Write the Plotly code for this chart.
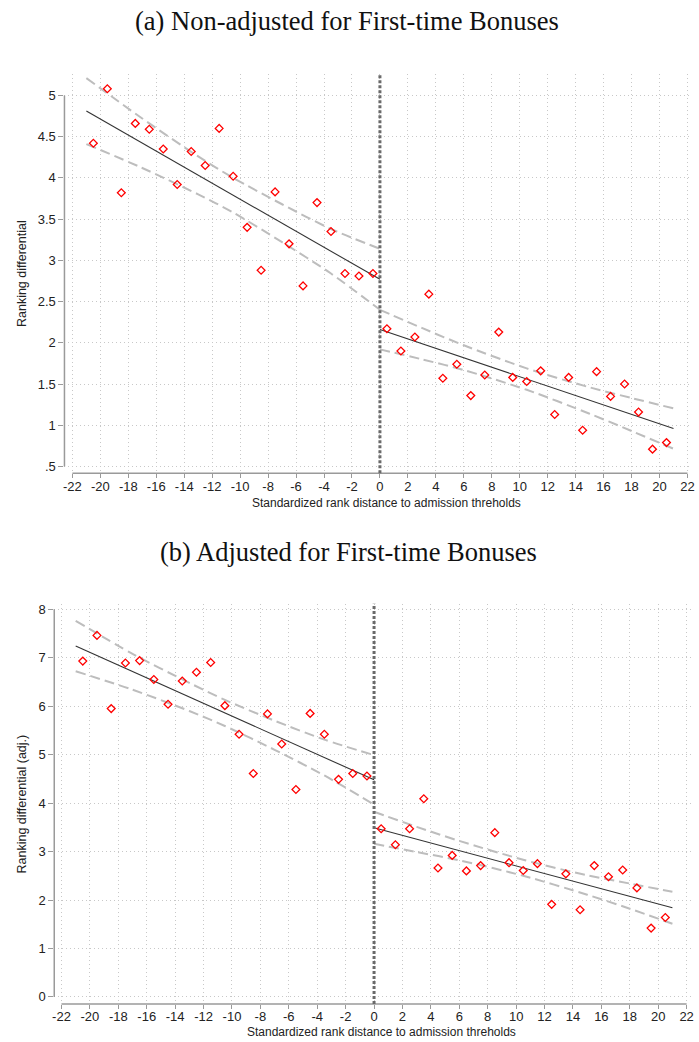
import plotly.graph_objects as go

# ---------------- data ----------------
bins_left = [-20.5, -19.5, -18.5, -17.5, -16.5, -15.5, -14.5, -13.5, -12.5, -11.5, -10.5,
             -9.5, -8.5, -7.5, -6.5, -5.5, -4.5, -3.5, -2.5, -1.5, -0.5]
bins_right = [0.5, 1.5, 2.5, 3.5, 4.5, 5.5, 6.5, 7.5, 8.5, 9.5, 10.5,
              11.5, 12.5, 13.5, 14.5, 15.5, 16.5, 17.5, 18.5, 19.5, 20.5]

# (a) Non-adjusted
a_left = [4.42, 5.08, 3.82, 4.66, 4.59, 4.35, 3.92, 4.32, 4.15, 4.60, 4.02,
          3.40, 2.88, 3.83, 3.20, 2.69, 3.70, 3.35, 2.84, 2.81, 2.84]
a_right = [2.17, 1.90, 2.07, 2.59, 1.57, 1.74, 1.36, 1.61, 2.13, 1.58, 1.53,
           1.66, 1.13, 1.58, 0.94, 1.65, 1.35, 1.50, 1.16, 0.71, 0.79]

# (b) Adjusted
b_left = [6.93, 7.46, 5.95, 6.89, 6.94, 6.55, 6.04, 6.52, 6.70, 6.90, 6.01,
          5.42, 4.61, 5.84, 5.22, 4.28, 5.85, 5.42, 4.49, 4.61, 4.56]
b_right = [3.47, 3.14, 3.47, 4.09, 2.66, 2.92, 2.60, 2.71, 3.39, 2.77, 2.61,
           2.75, 1.91, 2.54, 1.80, 2.71, 2.48, 2.62, 2.25, 1.42, 1.64]

# fitted lines
fit_x_left = [-21, 0]
fit_x_right = [0, 21]
a_fit_left = [4.81, 2.77]
a_fit_right = [2.16, 0.96]
b_fit_left = [7.24, 4.48]
b_fit_right = [3.49, 1.84]

# confidence bands (read at these x positions)
ci_x_left = [-21, -17, -13, -10.5, -7, -3.5, 0]
ci_x_right = [0, 3, 6, 10.5, 15, 18, 21]
a_up_left = [5.21, 4.72, 4.26, 4.00, 3.68, 3.38, 3.14]
a_lo_left = [4.41, 4.12, 3.80, 3.58, 3.22, 2.84, 2.40]
a_up_right = [2.40, 2.18, 1.97, 1.69, 1.46, 1.33, 1.205]
a_lo_right = [1.92, 1.80, 1.67, 1.43, 1.14, 0.93, 0.715]
b_up_left = [7.76, 7.08, 6.48, 6.13, 5.70, 5.31, 4.99]
b_lo_left = [6.72, 6.34, 5.90, 5.59, 5.10, 4.57, 3.97]
b_up_right = [3.82, 3.51, 3.22, 2.83, 2.51, 2.34, 2.17]
b_lo_right = [3.16, 2.99, 2.82, 2.50, 2.11, 1.82, 1.51]

x_ticks = list(range(-22, 23, 2))
x_ticklabels = [str(v) for v in x_ticks]
a_yticks = [0.5, 1, 1.5, 2, 2.5, 3, 3.5, 4, 4.5, 5]
a_yticklabels = [".5", "1", "1.5", "2", "2.5", "3", "3.5", "4", "4.5", "5"]
b_yticks = [0, 1, 2, 3, 4, 5, 6, 7, 8]
b_yticklabels = ["0", "1", "2", "3", "4", "5", "6", "7", "8"]

title_a = "(a) Non-adjusted for First-time Bonuses"
title_b = "(b) Adjusted for First-time Bonuses"
xtitle = "Standardized rank distance to admission threholds"
ytitle_a = "Ranking differential"
ytitle_b = "Ranking differential (adj.)"

# ---------------- styling ----------------
W, H = 699, 1042
RED = "#ff0000"
FIT = "#333333"
CI = "#bdbdbd"
AX = "#9a9a9a"
GRID = "#c8c8c8"
SANS = "Liberation Sans, Arial, sans-serif"
SERIF = "Liberation Serif, Times New Roman, serif"

fig = go.Figure()


def add_panel(xa, ya, pts_l, pts_r, fit_l, fit_r, upl, lol, upr, lor):
    for xs, ys in [(ci_x_left, upl), (ci_x_left, lol), (ci_x_right, upr), (ci_x_right, lor)]:
        fig.add_trace(go.Scatter(x=xs, y=ys, mode="lines", xaxis=xa, yaxis=ya,
                                 line=dict(color=CI, width=2, dash="10px,5px", shape="spline", smoothing=0.8),
                                 hoverinfo="skip", showlegend=False))
    for xs, ys in [(fit_x_left, fit_l), (fit_x_right, fit_r)]:
        fig.add_trace(go.Scatter(x=xs, y=ys, mode="lines", xaxis=xa, yaxis=ya,
                                 line=dict(color=FIT, width=1.1), showlegend=False))
    fig.add_trace(go.Scatter(x=bins_left + bins_right, y=pts_l + pts_r, mode="markers",
                             xaxis=xa, yaxis=ya, showlegend=False,
                             marker=dict(symbol="diamond-open", color=RED, size=6,
                                         line=dict(color=RED, width=1.3))))


add_panel("x", "y", a_left, a_right, a_fit_left, a_fit_right,
          a_up_left, a_lo_left, a_up_right, a_lo_right)
add_panel("x2", "y2", b_left, b_right, b_fit_left, b_fit_right,
          b_up_left, b_lo_left, b_up_right, b_lo_right)


def px_x(p):
    return p / W


def px_y(p):
    return 1 - p / H


axis_common = dict(showline=False, zeroline=False, ticks="outside",
                   tickwidth=1, tickcolor=AX, showgrid=True, gridcolor=GRID,
                   griddash="1px,3px", gridwidth=1,
                   tickfont=dict(family=SANS, size=13, color="#222222"))
yaxis_extra = dict(ticklen=5)

fig.update_layout(
    width=W, height=H, margin=dict(l=0, r=0, t=0, b=0),
    plot_bgcolor="white", paper_bgcolor="white",
    xaxis=dict(domain=[px_x(63), px_x(695)], range=[-22.567, 22.255], anchor="y",
               ticklen=4, ticklabelstandoff=-3, tickvals=x_ticks, ticktext=x_ticklabels,
               **axis_common),
    yaxis=dict(domain=[px_y(472.7), px_y(72)], range=[0.417, 5.262], anchor="x",
               tickvals=a_yticks, ticktext=a_yticklabels, **yaxis_extra, **axis_common),
    xaxis2=dict(domain=[px_x(52.7), px_x(695)], range=[-22.509, 22.31], anchor="y2",
                ticklen=4, ticklabelstandoff=-4, tickvals=x_ticks, ticktext=x_ticklabels,
                **axis_common),
    yaxis2=dict(domain=[px_y(1005), px_y(603.5)], range=[-0.148, 8.113], anchor="x2",
                tickvals=b_yticks, ticktext=b_yticklabels, **yaxis_extra, **axis_common),
)

shapes = []
for xa, ya, y0, y1 in [("x", "y", 0.5, 5), ("x2", "y2", 0, 8)]:
    shapes.append(dict(type="line", xref=f"{xa} domain", yref=ya, x0=0, x1=0, y0=y0, y1=y1,
                       line=dict(color=AX, width=1.5)))
    shapes.append(dict(type="line", xref=xa, yref=f"{ya} domain", x0=-22, x1=22, y0=0, y1=0,
                       line=dict(color=AX, width=1.5)))
    shapes.append(dict(type="line", xref=xa, yref=f"{ya} domain", x0=0, x1=0, y0=0, y1=1,
                       line=dict(color="#6a6a6a", width=3, dash="3px,2px")))
fig.update_layout(shapes=shapes)

ann = []
ann.append(dict(text=title_a, x=px_x(348), y=px_y(19), xref="paper", yref="paper", showarrow=False,
                xanchor="center", yanchor="middle", font=dict(family=SERIF, size=26.5, color="#111")))
ann.append(dict(text=title_b, x=px_x(349), y=px_y(552), xref="paper", yref="paper", showarrow=False,
                xanchor="center", yanchor="middle", font=dict(family=SERIF, size=26.5, color="#111")))
ann.append(dict(text=xtitle, x=px_x(388), y=px_y(502), xref="paper", yref="paper", showarrow=False,
                xanchor="center", yanchor="middle", font=dict(family=SANS, size=12, color="#222")))
ann.append(dict(text=xtitle, x=px_x(383), y=px_y(1033), xref="paper", yref="paper", showarrow=False,
                xanchor="center", yanchor="middle", font=dict(family=SANS, size=12, color="#222")))
ann.append(dict(text=ytitle_a, x=px_x(20), y=px_y(272), xref="paper", yref="paper", showarrow=False,
                textangle=-90, xanchor="center", yanchor="middle",
                font=dict(family=SANS, size=12.5, color="#222")))
ann.append(dict(text=ytitle_b, x=px_x(20), y=px_y(804), xref="paper", yref="paper", showarrow=False,
                textangle=-90, xanchor="center", yanchor="middle",
                font=dict(family=SANS, size=12.5, color="#222")))
fig.update_layout(annotations=ann)

fig.write_html("out.html")
